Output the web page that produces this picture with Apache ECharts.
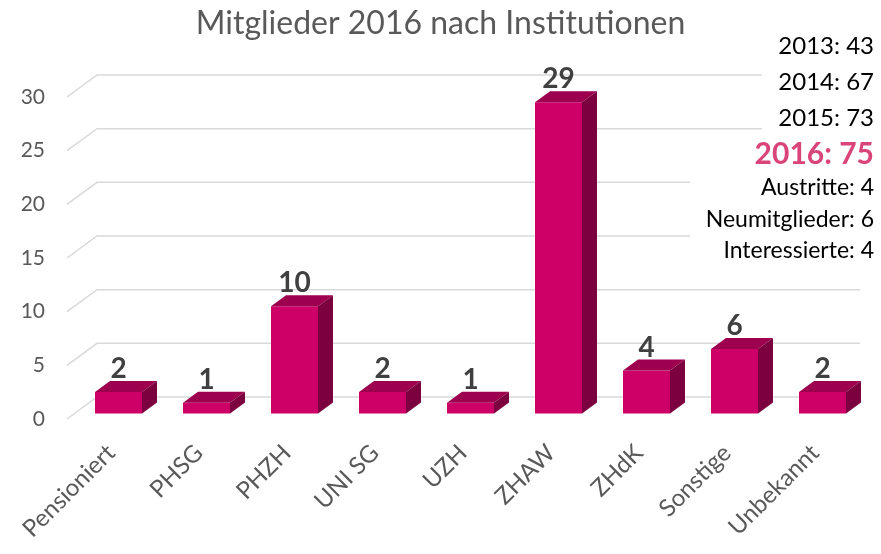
<!DOCTYPE html>
<html>
<head>
<meta charset="utf-8">
<script src="https://cdn.jsdelivr.net/npm/echarts@6/dist/echarts.min.js"></script>
<style>
  html, body { margin: 0; padding: 0; background: #fff; }
  #chart { width: 881px; height: 554px; }
</style>
</head>
<body>
<div id="chart"></div>
<script>
// Daten
var categories = ['Pensioniert', 'PHSG', 'PHZH', 'UNI SG', 'UZH', 'ZHAW', 'ZHdK', 'Sonstige', 'Unbekannt'];
var members = [2, 1, 10, 2, 1, 29, 4, 6, 2];
var yTicks = [0, 5, 10, 15, 20, 25, 30];
var yearLines = ['2013: 43', '2014: 67', '2015: 73'];
var currentLine = '2016: 75';
var infoLines = ['Austritte: 4', 'Neumitglieder: 6', 'Interessierte: 4'];

var chart = echarts.init(document.getElementById('chart'));

var FONT = 'Lato';
var depthX = 30, depthY = -22;     // Tiefe der Rueckwand
var barShiftX = 7.5, barShiftY = -5.5; // Balken leicht nach hinten
var barDX = 15, barDY = -11;       // Balkentiefe

// Gitterlinien: vorne links diagonal nach hinten, dann waagrecht
function renderGrid(params, api) {
  var v = api.value(0);
  var cs = params.coordSys;
  var y = api.coord([0, v])[1];
  var x0 = cs.x;
  return {
    type: 'polyline',
    shape: { points: [[x0, y], [x0 + depthX, y + depthY], [860, y + depthY]] },
    style: { stroke: '#d9d9d9', lineWidth: 1.5, fill: null },
    silent: true
  };
}

// 3D-Balken
function renderBar(params, api) {
  var i = api.value(0), v = api.value(1);
  var top = api.coord([i, v]);
  var base = api.coord([i, 0]);
  var w = api.size([1, 0])[0] * 0.534;
  var xc = top[0] + barShiftX;
  var xl = xc - w / 2, xr = xc + w / 2;
  var yt = top[1] + barShiftY, yb = base[1] + barShiftY;
  return {
    type: 'group',
    children: [
      { type: 'rect', shape: { x: xl, y: yt, width: w, height: yb - yt },
        style: { fill: '#cc0066' } },
      { type: 'polygon', shape: { points: [[xl, yt], [xr, yt], [xr + barDX, yt + barDY], [xl + barDX, yt + barDY]] },
        style: { fill: '#9e0050' } },
      { type: 'polygon', shape: { points: [[xr, yt], [xr + barDX, yt + barDY], [xr + barDX, yb + barDY], [xr, yb]] },
        style: { fill: '#7c0040' } },
      { type: 'text', x: xc, y: yt + barDY + 2,
        style: { text: String(v), fill: '#404040', font: 'bold 28px ' + FONT, align: 'center', verticalAlign: 'bottom' } }
    ]
  };
}

var graphics = [
  { type: 'rect', shape: { x: 762, y: 30, width: 119, height: 108 }, style: { fill: '#fff' }, z: 10 },
  { type: 'rect', shape: { x: 690, y: 140, width: 191, height: 125 }, style: { fill: '#fff' }, z: 10 }
];
var yearY = [46, 82, 118];
yearLines.forEach(function (t, k) {
  graphics.push({ type: 'text', x: 874, y: yearY[k], z: 11,
    style: { text: t, fill: '#000', font: '24px ' + FONT, align: 'right', verticalAlign: 'middle' } });
});
graphics.push({ type: 'text', x: 874, y: 154, z: 11,
  style: { text: currentLine, fill: '#d9457a', font: 'bold 30px ' + FONT, align: 'right', verticalAlign: 'middle' } });
var infoY = [188, 220, 251];
infoLines.forEach(function (t, k) {
  graphics.push({ type: 'text', x: 874, y: infoY[k], z: 11,
    style: { text: t, fill: '#000', font: '23px ' + FONT, align: 'right', verticalAlign: 'middle' } });
});

var option = {
  backgroundColor: '#fff',
  animation: false,
  title: {
    text: 'Mitglieder 2016 nach Institutionen',
    left: 'center',
    top: 3,
    textStyle: { fontFamily: FONT, fontSize: 32, fontWeight: 'normal', color: '#595959' }
  },
  grid: { left: 67, right: 22, top: 97, bottom: 135 },
  xAxis: {
    type: 'category',
    data: categories,
    axisLine: { show: false },
    axisTick: { show: false },
    axisLabel: { rotate: 45, margin: 30, interval: 0, color: '#595959', fontFamily: FONT, fontSize: 24 }
  },
  yAxis: {
    type: 'value',
    min: 0, max: 30, interval: 5,
    splitLine: { show: false },
    axisLine: { show: false },
    axisTick: { show: false },
    axisLabel: { margin: 22, color: '#595959', fontFamily: FONT, fontSize: 21 }
  },
  series: [
    {
      type: 'custom',
      renderItem: renderGrid,
      data: yTicks.map(function (v) { return [v]; }),
      encode: { y: 0 },
      z: 1,
      silent: true
    },
    {
      type: 'custom',
      renderItem: renderBar,
      data: members.map(function (v, i) { return [i, v]; }),
      encode: { x: 0, y: 1 },
      z: 2
    }
  ],
  graphic: graphics
};

chart.setOption(option);
</script>
</body>
</html>
